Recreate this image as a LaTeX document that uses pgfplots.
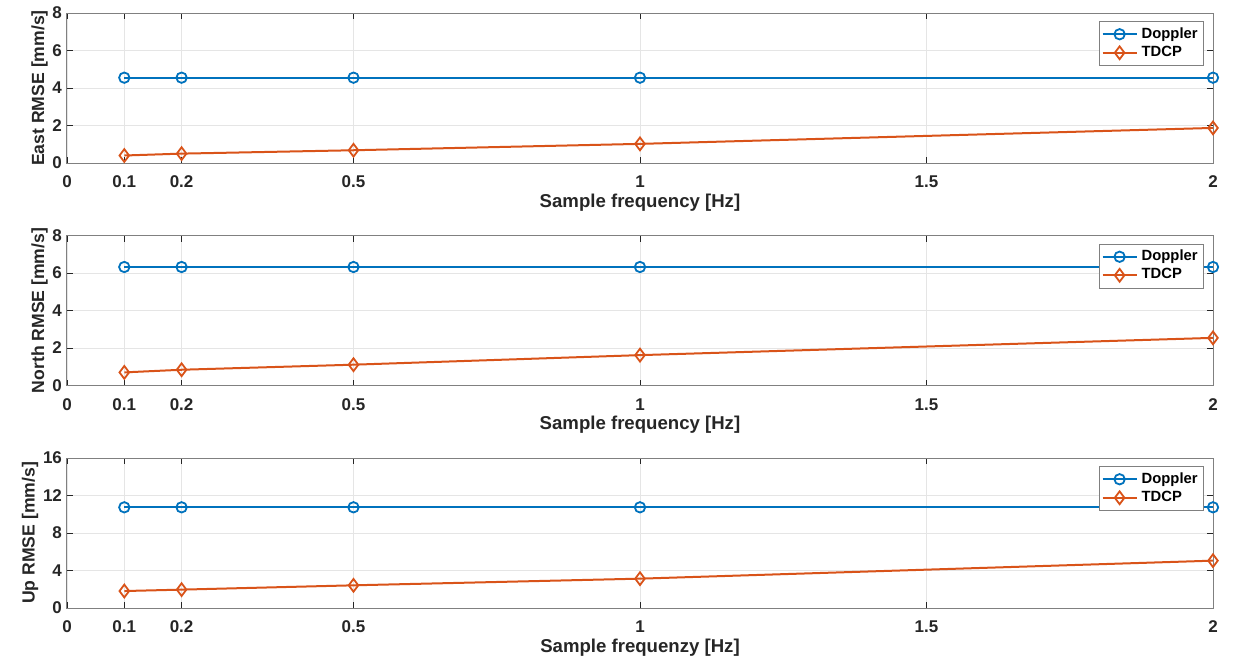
\documentclass[border=0pt]{standalone}
\usepackage{fontspec}
\setmainfont{Liberation Sans}
\usepackage{pgfplots}
\pgfplotsset{compat=1.18}
\definecolor{mblue}{rgb}{0,0.447,0.741}
\definecolor{morange}{rgb}{0.85,0.325,0.098}
\definecolor{mtext}{rgb}{0.15,0.15,0.15}
\definecolor{maxis}{rgb}{0.5,0.5,0.5}
\pgfplotsset{
  mstyle/.style={
    scale only axis, width=573pt, height=75pt,
    xmin=0, xmax=2,
    xtick={0,0.1,0.2,0.5,1,1.5,2},
    xticklabels={0,0.1,0.2,0.5,1,1.5,2},
    grid=major,
    major grid style={draw=black!10, line width=0.4pt},
    axis line style={draw=maxis, line width=0.5pt},
    tick style={draw=mtext, line width=0.4pt},
    major tick length=3pt,
    tick align=inside,
    /pgf/number format/assume math mode=true,
    ticklabel style={font=\fontsize{8.5}{10}\selectfont\bfseries, text=mtext},
    xticklabel style={yshift=-3pt},
    yticklabel style={xshift=1pt},
    label style={font=\fontsize{9.3}{11}\selectfont\bfseries, text=mtext},
    xlabel style={yshift=4pt},
    ylabel style={yshift=-4.5pt, font=\fontsize{8.8}{10}\selectfont\bfseries},
    legend style={at={(rel axis cs:1,1)}, anchor=north east, xshift=-4.5pt, yshift=-4pt,
      draw=maxis, fill=white, font=\fontsize{7.4}{8}\selectfont\bfseries, text=black,
      inner sep=1pt, row sep=-1.5pt},
    legend cell align=left,
    legend image post style={sharp plot},
  },
  dop/.style={mblue, line width=1pt, mark=o, mark size=2.6pt, mark options={line width=0.9pt}},
  tdc/.style={morange, line width=1pt, mark=diamond, mark size=3.2pt, mark options={line width=0.9pt}},
}
\begin{document}
\begin{tikzpicture}
\begin{axis}[mstyle, at={(0,0)}, anchor=north west,
  ymin=0, ymax=8, ytick={0,2,4,6,8},
  xlabel={Sample frequency [Hz]}, ylabel={East RMSE [mm/s]}]
\addplot[dop] coordinates {(0.1,4.55) (0.2,4.55) (0.5,4.55) (1,4.55) (2,4.55)};
\addplot[tdc] coordinates {(0.1,0.40) (0.2,0.50) (0.5,0.68) (1,1.02) (2,1.87)};
\legend{Doppler,TDCP}
\end{axis}
\begin{axis}[mstyle, at={(0,-111.25pt)}, anchor=north west,
  ymin=0, ymax=8, ytick={0,2,4,6,8},
  xlabel={Sample frequency [Hz]}, ylabel={North RMSE [mm/s]}]
\addplot[dop] coordinates {(0.1,6.32) (0.2,6.32) (0.5,6.32) (1,6.32) (2,6.32)};
\addplot[tdc] coordinates {(0.1,0.70) (0.2,0.84) (0.5,1.11) (1,1.62) (2,2.54)};
\legend{Doppler,TDCP}
\end{axis}
\begin{axis}[mstyle, at={(0,-222.5pt)}, anchor=north west,
  ymin=0, ymax=16, ytick={0,4,8,12,16},
  xlabel={Sample frequenzy [Hz]}, ylabel={Up RMSE [mm/s]}]
\addplot[dop] coordinates {(0.1,10.74) (0.2,10.74) (0.5,10.74) (1,10.74) (2,10.74)};
\addplot[tdc] coordinates {(0.1,1.81) (0.2,1.96) (0.5,2.42) (1,3.13) (2,5.05)};
\legend{Doppler,TDCP}
\end{axis}
\pgfresetboundingbox
\path[use as bounding box] (-33.5pt,6.5pt) rectangle (583pt,-323pt);
\end{tikzpicture}
\end{document}
